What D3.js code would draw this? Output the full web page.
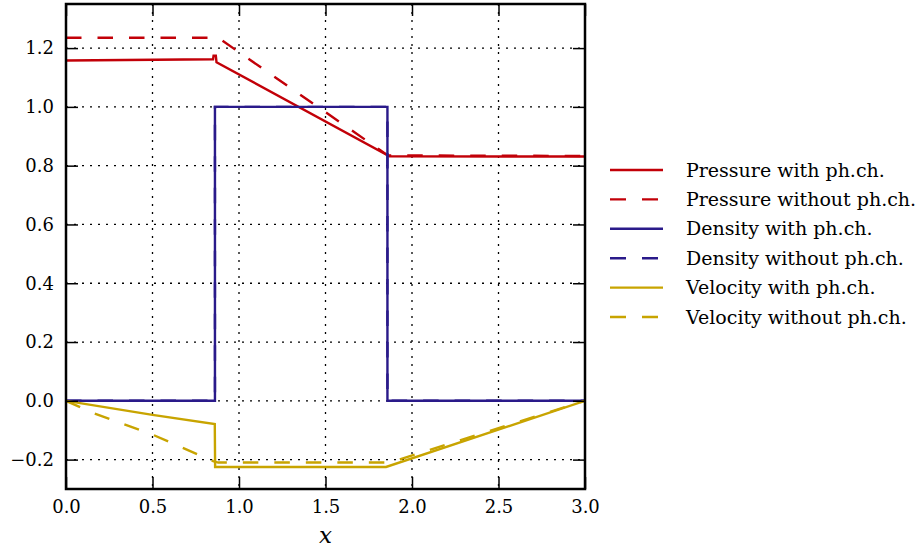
<!DOCTYPE html>
<html><head><meta charset="utf-8">
<script src="https://cdn.jsdelivr.net/npm/d3@7"></script>
<style>body{margin:0;background:#fff}svg{display:block}</style>
</head><body>
<script>
// ---- data ----
const xTicks = [0.0, 0.5, 1.0, 1.5, 2.0, 2.5, 3.0];
const yTicks = [-0.2, 0.0, 0.2, 0.4, 0.6, 0.8, 1.0, 1.2];
const seriesNames = ["Pressure with ph.ch.", "Pressure without ph.ch.", "Density with ph.ch.", "Density without ph.ch.", "Velocity with ph.ch.", "Velocity without ph.ch."];

const pressureWithX = [0, 0.85, 0.853, 0.866, 0.87, 1.87, 3.0];
const pressureWithY = [1.158, 1.162, 1.174, 1.174, 1.152, 0.832, 0.831];
const pressureWithoutX = [0, 0.88, 1.86, 3.0];
const pressureWithoutY = [1.235, 1.235, 0.835, 0.833];
const densityWithX = [0, 0.861, 0.861, 1.858, 1.858, 3.0];
const densityWithY = [0, 0, 1.0, 1.0, 0, 0];
const densityWithoutX = [0, 0.861, 0.861, 1.858, 1.858, 3.0];
const densityWithoutY = [0, 0, 1.0, 1.0, 0, 0];
const velocityWithX = [0, 0.5, 0.86, 0.862, 1.85, 3.0];
const velocityWithY = [0, -0.048, -0.079, -0.225, -0.225, 0];
const velocityWithoutX = [0, 0.15, 0.5, 0.85, 0.88, 1.87, 3.0];
const velocityWithoutY = [0, -0.04, -0.115, -0.205, -0.21, -0.21, 0];

const colors = ["#c20008", "#c20008", "#2a1a8a", "#2a1a8a", "#c8a400", "#c8a400"];
const dashed = [false, true, false, true, false, true];
const xs = [pressureWithX, pressureWithoutX, densityWithX, densityWithoutX, velocityWithX, velocityWithoutX];
const ys = [pressureWithY, pressureWithoutY, densityWithY, densityWithoutY, velocityWithY, velocityWithoutY];

// ---- layout ----
const W = 922, H = 548;
const L = 66, R = 585, T = 4, B = 489;
const svg = d3.select("body").append("svg").attr("width", W).attr("height", H);
const x = d3.scaleLinear().domain([0, 3]).range([L, R]);
const y = d3.scaleLinear().domain([-0.3, 1.35]).range([B, T]);
const font = "DejaVu Serif";
const fmt = v => (v < 0 ? "\u2212" : "") + Math.abs(v).toFixed(1);

// grid
const g = svg.append("g");
g.selectAll(".gx").data(xTicks.slice(1, -1)).enter().append("line")
  .attr("x1", d => x(d)).attr("x2", d => x(d)).attr("y1", T).attr("y2", B)
  .attr("stroke", "#000").attr("stroke-width", 1.3).attr("stroke-dasharray", "2,6");
g.selectAll(".gy").data(yTicks).enter().append("line")
  .attr("y1", d => y(d)).attr("y2", d => y(d)).attr("x1", L).attr("x2", R)
  .attr("stroke", "#000").attr("stroke-width", 1.3).attr("stroke-dasharray", "2,6");

// series
svg.append("clipPath").attr("id", "c").append("rect")
  .attr("x", L).attr("y", T).attr("width", R - L).attr("height", B - T);
const line = d3.line().x(d => x(d[0])).y(d => y(d[1]));
seriesNames.forEach((n, i) => {
  const pts = xs[i].map((v, j) => [v, ys[i][j]]);
  svg.append("path").attr("d", line(pts)).attr("fill", "none")
    .attr("stroke", colors[i]).attr("stroke-width", 2.4)
    .attr("stroke-dasharray", dashed[i] ? "15.5,16" : null)
    .attr("clip-path", "url(#c)");
});

// axes with inward ticks on all sides
const tl = 12;
const axB = svg.append("g").attr("transform", `translate(0,${B})`)
  .call(d3.axisBottom(x).tickValues(xTicks).tickFormat(fmt).tickSizeInner(-tl).tickSizeOuter(0).tickPadding(11));
const axT = svg.append("g").attr("transform", `translate(0,${T})`)
  .call(d3.axisTop(x).tickValues(xTicks).tickFormat("").tickSizeInner(-tl).tickSizeOuter(0));
const axL = svg.append("g").attr("transform", `translate(${L},0)`)
  .call(d3.axisLeft(y).tickValues(yTicks).tickFormat(fmt).tickSizeInner(-tl).tickSizeOuter(0).tickPadding(12));
const axR = svg.append("g").attr("transform", `translate(${R},0)`)
  .call(d3.axisRight(y).tickValues(yTicks).tickFormat("").tickSizeInner(-tl).tickSizeOuter(0));
[axB, axT, axL, axR].forEach(a => {
  a.select(".domain").remove();
  a.selectAll(".tick line").attr("stroke", "#000").attr("stroke-width", 1.5);
  a.selectAll("text").attr("font-family", font).attr("font-size", 18).attr("fill", "#000");
});
axB.selectAll("text").attr("dy", "0.71em");

svg.append("rect").attr("x", L).attr("y", T).attr("width", R - L).attr("height", B - T)
  .attr("fill", "none").attr("stroke", "#000").attr("stroke-width", 2.5);

svg.append("text").attr("x", (L + R) / 2).attr("y", 543).attr("text-anchor", "middle")
  .attr("font-family", font).attr("font-style", "italic").attr("font-size", 23).text("x");

// legend
const lg = svg.append("g");
seriesNames.forEach((n, i) => {
  const yy = 170 + i * 29.4;
  lg.append("line").attr("x1", 610).attr("x2", 663).attr("y1", yy).attr("y2", yy)
    .attr("stroke", colors[i]).attr("stroke-width", 2.4)
    .attr("stroke-dasharray", dashed[i] ? "16,16" : null);
  lg.append("text").attr("x", 686).attr("y", yy + 6.5).attr("font-family", font)
    .attr("font-size", 19).text(n);
});
</script>
</body></html>
